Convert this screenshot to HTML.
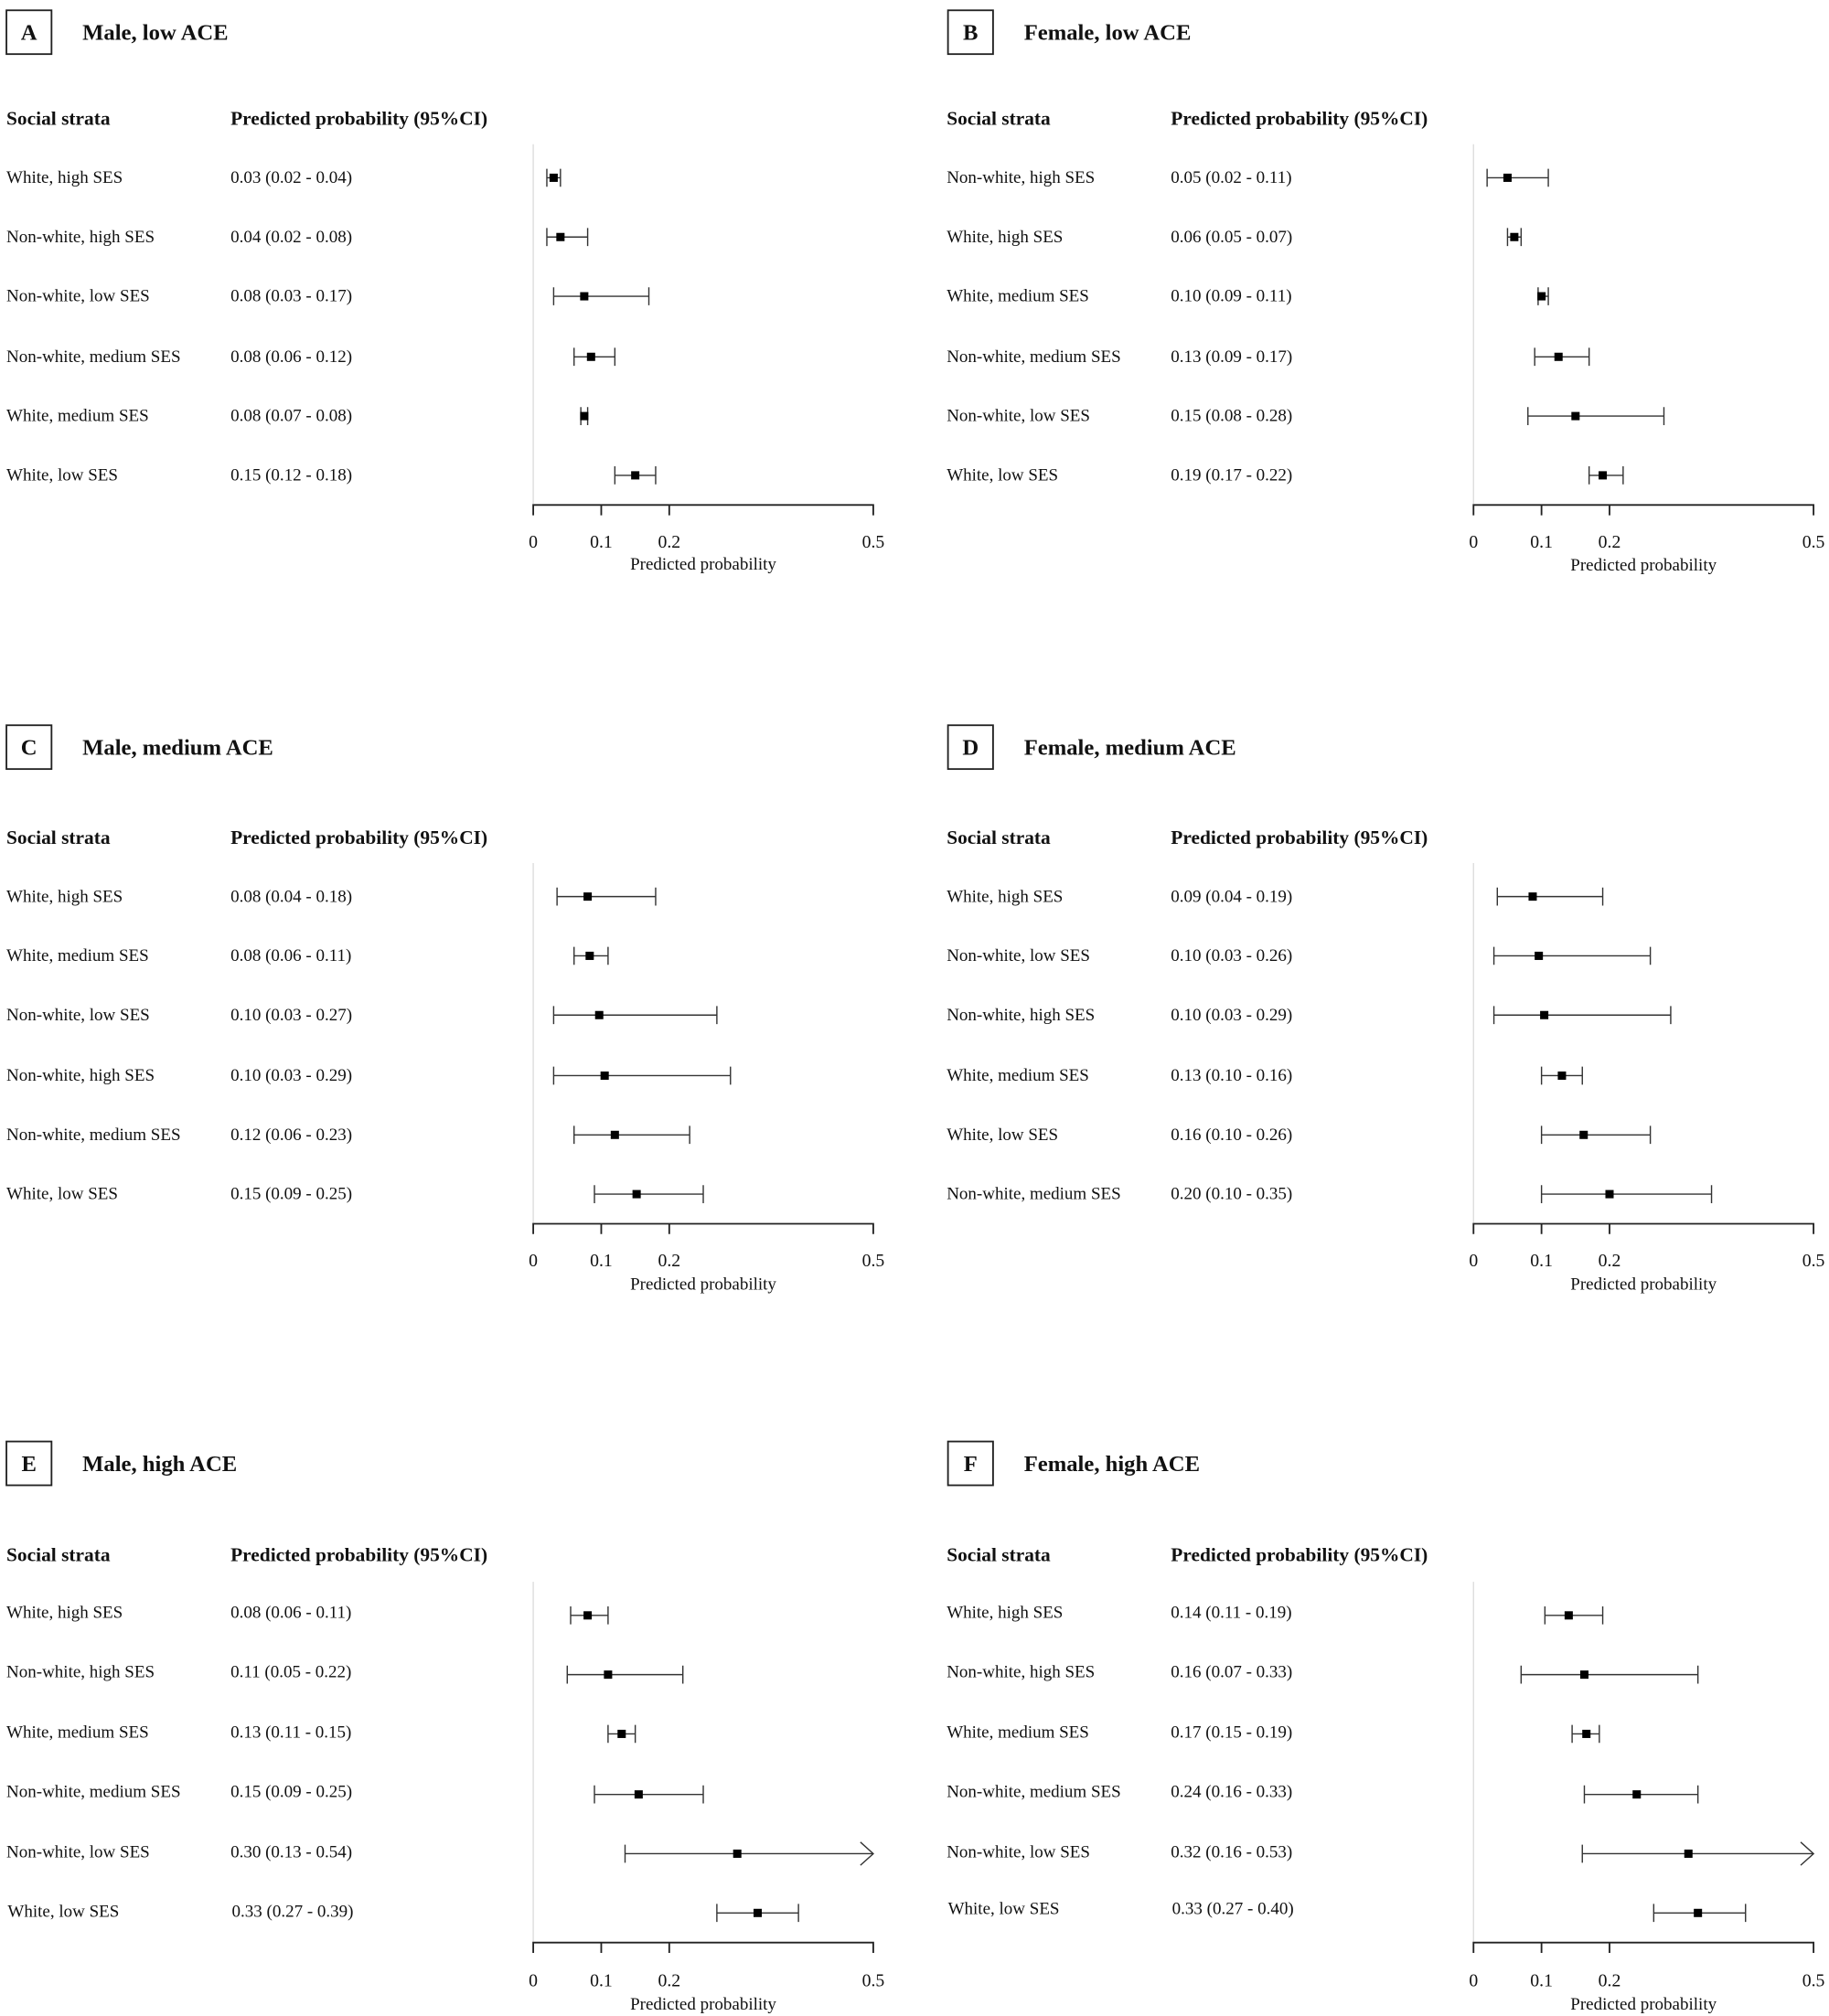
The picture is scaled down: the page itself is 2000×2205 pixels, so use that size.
<!DOCTYPE html>
<html><head><meta charset="utf-8"><style>
html,body{margin:0;padding:0;background:#fff}
svg{display:block}
text{font-family:"Liberation Serif",serif;fill:#111}
.t{font-size:17.5px;font-weight:bold}
.h{font-size:15.2px;font-weight:bold}
.r{font-size:13.5px}
.k{font-size:14px}
</style></head><body>
<svg id="s" width="2000" height="2205" viewBox="0 0 1420 1565" preserveAspectRatio="none" xmlns="http://www.w3.org/2000/svg">
<g id="pA" transform="translate(0,0)">
<rect x="5" y="8" width="35" height="34" fill="none" stroke="#222" stroke-width="1.3"/>
<text class="t" x="22.5" y="31" text-anchor="middle">A</text><text class="t" x="64" y="31">Male, low ACE</text>
<text class="h" x="5" y="97">Social strata</text><text class="h" x="179" y="97">Predicted probability (95%CI)</text>
<text class="r" x="5" y="142">White, high SES</text><text class="r" x="179" y="142">0.03 (0.02 - 0.04)</text>
<text class="r" x="5" y="188">Non-white, high SES</text><text class="r" x="179" y="188">0.04 (0.02 - 0.08)</text>
<text class="r" x="5" y="234">Non-white, low SES</text><text class="r" x="179" y="234">0.08 (0.03 - 0.17)</text>
<text class="r" x="5" y="281">Non-white, medium SES</text><text class="r" x="179" y="281">0.08 (0.06 - 0.12)</text>
<text class="r" x="5" y="327">White, medium SES</text><text class="r" x="179" y="327">0.08 (0.07 - 0.08)</text>
<text class="r" x="5" y="373">White, low SES</text><text class="r" x="179" y="373">0.15 (0.12 - 0.18)</text>
</g>
<g id="pB" transform="translate(730,0)">
<rect x="6" y="8" width="35" height="34" fill="none" stroke="#222" stroke-width="1.3"/>
<text class="t" x="23.5" y="31" text-anchor="middle">B</text><text class="t" x="65" y="31">Female, low ACE</text>
<text class="h" x="5" y="97">Social strata</text><text class="h" x="179" y="97">Predicted probability (95%CI)</text>
<text class="r" x="5" y="142">Non-white, high SES</text><text class="r" x="179" y="142">0.05 (0.02 - 0.11)</text>
<text class="r" x="5" y="188">White, high SES</text><text class="r" x="179" y="188">0.06 (0.05 - 0.07)</text>
<text class="r" x="5" y="234">White, medium SES</text><text class="r" x="179" y="234">0.10 (0.09 - 0.11)</text>
<text class="r" x="5" y="281">Non-white, medium SES</text><text class="r" x="179" y="281">0.13 (0.09 - 0.17)</text>
<text class="r" x="5" y="327">Non-white, low SES</text><text class="r" x="179" y="327">0.15 (0.08 - 0.28)</text>
<text class="r" x="5" y="373">White, low SES</text><text class="r" x="179" y="373">0.19 (0.17 - 0.22)</text>
</g>
<g id="pC" transform="translate(0,557)">
<rect x="5" y="6" width="35" height="34" fill="none" stroke="#222" stroke-width="1.3"/>
<text class="t" x="22.5" y="29" text-anchor="middle">C</text><text class="t" x="64" y="29">Male, medium ACE</text>
<text class="h" x="5" y="98">Social strata</text><text class="h" x="179" y="98">Predicted probability (95%CI)</text>
<text class="r" x="5" y="143">White, high SES</text><text class="r" x="179" y="143">0.08 (0.04 - 0.18)</text>
<text class="r" x="5" y="189">White, medium SES</text><text class="r" x="179" y="189">0.08 (0.06 - 0.11)</text>
<text class="r" x="5" y="235">Non-white, low SES</text><text class="r" x="179" y="235">0.10 (0.03 - 0.27)</text>
<text class="r" x="5" y="282">Non-white, high SES</text><text class="r" x="179" y="282">0.10 (0.03 - 0.29)</text>
<text class="r" x="5" y="328">Non-white, medium SES</text><text class="r" x="179" y="328">0.12 (0.06 - 0.23)</text>
<text class="r" x="5" y="374">White, low SES</text><text class="r" x="179" y="374">0.15 (0.09 - 0.25)</text>
</g>
<g id="pD" transform="translate(730,557)">
<rect x="6" y="6" width="35" height="34" fill="none" stroke="#222" stroke-width="1.3"/>
<text class="t" x="23.5" y="29" text-anchor="middle">D</text><text class="t" x="65" y="29">Female, medium ACE</text>
<text class="h" x="5" y="98">Social strata</text><text class="h" x="179" y="98">Predicted probability (95%CI)</text>
<text class="r" x="5" y="143">White, high SES</text><text class="r" x="179" y="143">0.09 (0.04 - 0.19)</text>
<text class="r" x="5" y="189">Non-white, low SES</text><text class="r" x="179" y="189">0.10 (0.03 - 0.26)</text>
<text class="r" x="5" y="235">Non-white, high SES</text><text class="r" x="179" y="235">0.10 (0.03 - 0.29)</text>
<text class="r" x="5" y="282">White, medium SES</text><text class="r" x="179" y="282">0.13 (0.10 - 0.16)</text>
<text class="r" x="5" y="328">White, low SES</text><text class="r" x="179" y="328">0.16 (0.10 - 0.26)</text>
<text class="r" x="5" y="374">Non-white, medium SES</text><text class="r" x="179" y="374">0.20 (0.10 - 0.35)</text>
</g>
<g id="pE" transform="translate(0,1114)">
<rect x="5" y="5" width="35" height="34" fill="none" stroke="#222" stroke-width="1.3"/>
<text class="t" x="22.5" y="28" text-anchor="middle">E</text><text class="t" x="64" y="28">Male, high ACE</text>
<text class="h" x="5" y="98">Social strata</text><text class="h" x="179" y="98">Predicted probability (95%CI)</text>
<text class="r" x="5" y="142">White, high SES</text><text class="r" x="179" y="142">0.08 (0.06 - 0.11)</text>
<text class="r" x="5" y="188">Non-white, high SES</text><text class="r" x="179" y="188">0.11 (0.05 - 0.22)</text>
<text class="r" x="5" y="235">White, medium SES</text><text class="r" x="179" y="235">0.13 (0.11 - 0.15)</text>
<text class="r" x="5" y="281">Non-white, medium SES</text><text class="r" x="179" y="281">0.15 (0.09 - 0.25)</text>
<text class="r" x="5" y="328">Non-white, low SES</text><text class="r" x="179" y="328">0.30 (0.13 - 0.54)</text>
<text class="r" x="6" y="374">White, low SES</text><text class="r" x="180" y="374">0.33 (0.27 - 0.39)</text>
</g>
<g id="pF" transform="translate(730,1114)">
<rect x="6" y="5" width="35" height="34" fill="none" stroke="#222" stroke-width="1.3"/>
<text class="t" x="23.5" y="28" text-anchor="middle">F</text><text class="t" x="65" y="28">Female, high ACE</text>
<text class="h" x="5" y="98">Social strata</text><text class="h" x="179" y="98">Predicted probability (95%CI)</text>
<text class="r" x="5" y="142">White, high SES</text><text class="r" x="179" y="142">0.14 (0.11 - 0.19)</text>
<text class="r" x="5" y="188">Non-white, high SES</text><text class="r" x="179" y="188">0.16 (0.07 - 0.33)</text>
<text class="r" x="5" y="235">White, medium SES</text><text class="r" x="179" y="235">0.17 (0.15 - 0.19)</text>
<text class="r" x="5" y="281">Non-white, medium SES</text><text class="r" x="179" y="281">0.24 (0.16 - 0.33)</text>
<text class="r" x="5" y="328">Non-white, low SES</text><text class="r" x="179" y="328">0.32 (0.16 - 0.53)</text>
<text class="r" x="6" y="372">White, low SES</text><text class="r" x="180" y="372">0.33 (0.27 - 0.40)</text>
</g>
<g transform="translate(414,0)"><text class="k" x="0" y="425" text-anchor="middle">0</text><text class="k" x="52.8" y="425" text-anchor="middle">0.1</text><text class="k" x="105.6" y="425" text-anchor="middle">0.2</text><text class="k" x="264" y="425" text-anchor="middle">0.5</text><text class="r" x="132" y="442" text-anchor="middle">Predicted probability</text></g>
<g transform="translate(1144,0)"><text class="k" x="0" y="425" text-anchor="middle">0</text><text class="k" x="52.8" y="425" text-anchor="middle">0.1</text><text class="k" x="105.6" y="425" text-anchor="middle">0.2</text><text class="k" x="264" y="425" text-anchor="middle">0.5</text><text class="r" x="132" y="443" text-anchor="middle">Predicted probability</text></g>
<g transform="translate(414,558)"><text class="k" x="0" y="425" text-anchor="middle">0</text><text class="k" x="52.8" y="425" text-anchor="middle">0.1</text><text class="k" x="105.6" y="425" text-anchor="middle">0.2</text><text class="k" x="264" y="425" text-anchor="middle">0.5</text><text class="r" x="132" y="443" text-anchor="middle">Predicted probability</text></g>
<g transform="translate(1144,558)"><text class="k" x="0" y="425" text-anchor="middle">0</text><text class="k" x="52.8" y="425" text-anchor="middle">0.1</text><text class="k" x="105.6" y="425" text-anchor="middle">0.2</text><text class="k" x="264" y="425" text-anchor="middle">0.5</text><text class="r" x="132" y="443" text-anchor="middle">Predicted probability</text></g>
<g transform="translate(414,1117)"><text class="k" x="0" y="425" text-anchor="middle">0</text><text class="k" x="52.8" y="425" text-anchor="middle">0.1</text><text class="k" x="105.6" y="425" text-anchor="middle">0.2</text><text class="k" x="264" y="425" text-anchor="middle">0.5</text><text class="r" x="132" y="443" text-anchor="middle">Predicted probability</text></g>
<g transform="translate(1144,1117)"><text class="k" x="0" y="425" text-anchor="middle">0</text><text class="k" x="52.8" y="425" text-anchor="middle">0.1</text><text class="k" x="105.6" y="425" text-anchor="middle">0.2</text><text class="k" x="264" y="425" text-anchor="middle">0.5</text><text class="r" x="132" y="443" text-anchor="middle">Predicted probability</text></g>
<g id="shapes"></g>
</svg>
<script>
var P=[
[414,0,[[.03,.02,.04],[.04,.02,.08],[.075,.03,.17],[.085,.06,.12],[.075,.07,.08],[.15,.12,.18]]],
[1144,0,[[.05,.02,.11],[.06,.05,.07],[.10,.095,.11],[.125,.09,.17],[.15,.08,.28],[.19,.17,.22]]],
[414,558,[[.08,.035,.18],[.083,.06,.11],[.097,.03,.27],[.105,.03,.29],[.12,.06,.23],[.152,.09,.25]]],
[1144,558,[[.087,.035,.19],[.096,.03,.26],[.104,.03,.29],[.13,.10,.16],[.162,.10,.26],[.20,.10,.35]]],
[414,1116,[[.08,.055,.11],[.11,.05,.22],[.13,.11,.15],[.155,.09,.25],[.30,.135,9],[.33,.27,.39]]],
[1144,1116,[[.14,.105,.19],[.163,.07,.33],[.166,.145,.185],[.24,.163,.33],[.316,.16,9],[.33,.265,.40]]]];
var ys=[138,184,230,277,323,369],h='',S=528;
P.forEach(function(p){var x0=p[0],dy=p[1];
h+='<line x1="'+x0+'" y1="'+(dy+112)+'" x2="'+x0+'" y2="'+(dy+392)+'" stroke="#ddd" stroke-width="1"/>';
h+='<path d="M'+x0+' '+(dy+400)+'V'+(dy+392)+'H'+(x0+264)+'V'+(dy+400)+'M'+(x0+52.8)+' '+(dy+392)+'V'+(dy+400)+'M'+(x0+105.6)+' '+(dy+392)+'V'+(dy+400)+'" fill="none" stroke="#222" stroke-width="1.3"/>';
p[2].forEach(function(r,i){var y=dy+ys[i],e=x0+r[0]*S,l=x0+r[1]*S,u;
if(r[2]>1){u=x0+264;h+='<path d="M'+l+' '+(y-7)+'V'+(y+7)+'M'+l+' '+y+'H'+u+'M'+(u-10)+' '+(y-9)+'L'+u+' '+y+'L'+(u-10)+' '+(y+9)+'" fill="none" stroke="#333" stroke-width="1"/>';}
else{u=x0+r[2]*S;h+='<path d="M'+l+' '+(y-7)+'V'+(y+7)+'M'+l+' '+y+'H'+u+'M'+u+' '+(y-7)+'V'+(y+7)+'" fill="none" stroke="#333" stroke-width="1"/>';}
h+='<rect x="'+(e-3.2)+'" y="'+(y-3.2)+'" width="6.4" height="6.4" fill="#000"/>';});});
document.getElementById('shapes').innerHTML=h;
</script>
</body></html>
